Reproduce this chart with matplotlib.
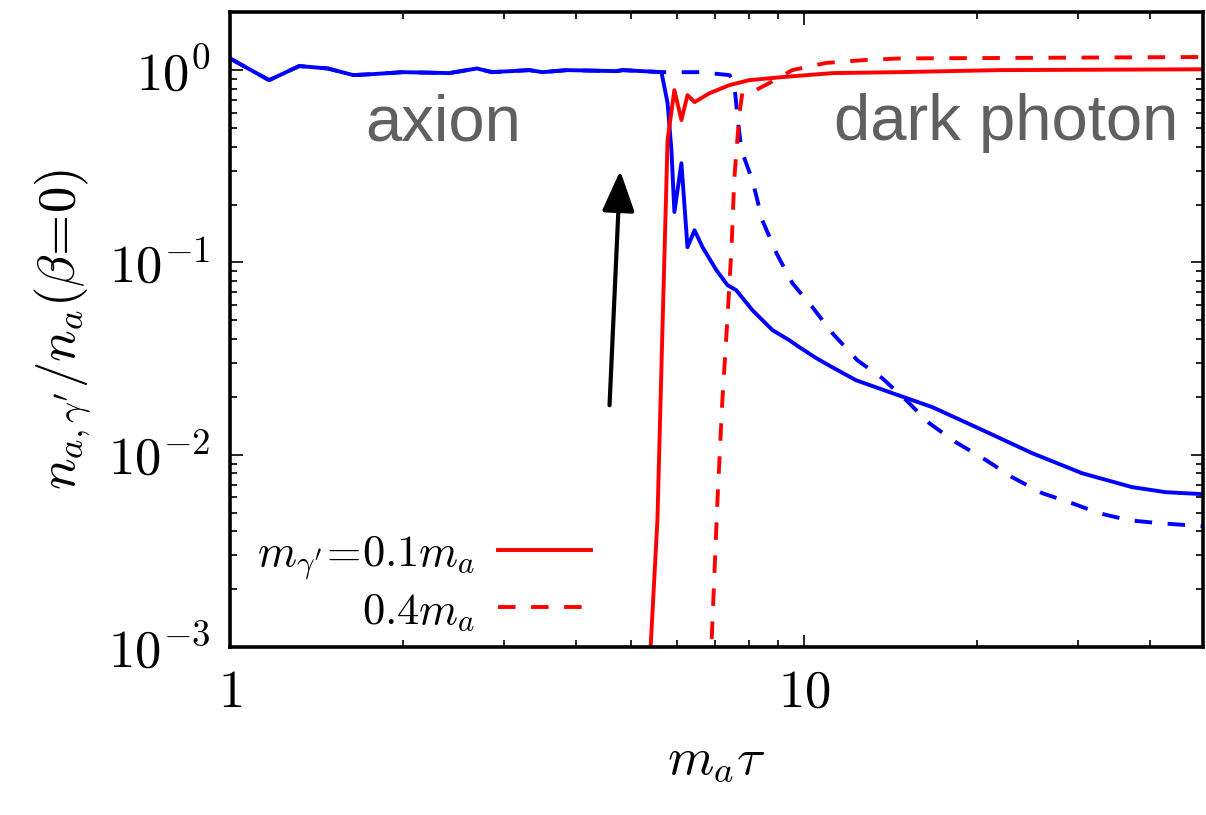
import matplotlib
matplotlib.use("Agg")
import matplotlib.pyplot as plt
from matplotlib.ticker import FixedLocator, FixedFormatter, LogLocator, NullFormatter

plt.rcParams["mathtext.fontset"] = "cm"
plt.rcParams["font.family"] = "serif"

# axion component, m_gamma' = 0.1 m_a
blue_x_01 = [1.0, 1.17, 1.32, 1.48, 1.64, 1.77, 2.0, 2.41, 2.69, 2.86, 3.32, 3.50,
             3.86, 4.71, 4.83, 5.64, 5.78, 5.87, 5.94, 6.11, 6.26, 6.44, 6.65, 7.03,
             7.35, 7.61, 8.12, 8.80, 9.42, 9.80, 10.49, 11.19, 12.31, 14.05, 16.70,
             20.15, 24.92, 30.45, 37.2, 42.6, 49.5]
blue_y_01 = [1.15, 0.887, 1.05, 1.02, 0.942, 0.953, 0.976, 0.965, 1.02, 0.976, 1.0, 0.976,
             1.0, 0.988, 1.0, 0.976, 0.674, 0.384, 0.183, 0.328, 0.120, 0.147, 0.120, 0.0912,
             0.0762, 0.0718, 0.0565, 0.0445, 0.0394, 0.0363, 0.0318, 0.0285, 0.0244, 0.0212, 0.0177,
             0.0137, 0.0102, 0.00802, 0.00679, 0.00639, 0.00624]

# axion component, m_gamma' = 0.4 m_a
blue_x_04 = [1.0, 1.17, 1.32, 1.48, 1.64, 1.77, 2.0, 2.41, 2.69, 2.86, 3.32, 3.50,
             3.86, 4.71, 4.83, 5.64, 6.57, 7.41, 7.55, 7.65, 7.77, 8.12, 8.45, 8.94,
             9.53, 10.33, 11.19, 12.37, 13.67, 15.05, 16.50, 18.38, 20.73, 23.0, 25.94,
             29.25, 32.6, 36.7, 41.4, 49.5]
blue_y_04 = [1.15, 0.887, 1.05, 1.02, 0.942, 0.953, 0.976, 0.965, 1.02, 0.976, 1.0, 0.976,
             1.0, 0.988, 1.0, 0.976, 0.976, 0.942, 0.856, 0.570, 0.384, 0.268, 0.166, 0.112,
             0.0781, 0.0586, 0.0429, 0.0310, 0.0250, 0.0192, 0.0146, 0.0116, 0.00937, 0.00765, 0.00632,
             0.00560, 0.00497, 0.00457, 0.00441, 0.00425]

# dark photon component, m_gamma' = 0.1 m_a
red_x_01 = [5.38, 5.40, 5.55, 5.66, 5.78, 5.94, 6.11, 6.26, 6.44, 6.84, 7.41, 8.02,
            9.16, 11.19, 14.63, 21.8, 49.5]
red_y_01 = [0.0005, 0.001, 0.0046, 0.043, 0.433, 0.787, 0.55, 0.741, 0.682, 0.759, 0.836, 0.887,
            0.920, 0.965, 0.976, 1.0, 1.01]

# dark photon component, m_gamma' = 0.4 m_a
red_x_04 = [6.87, 6.89, 7.06, 7.20, 7.35, 7.47, 7.55, 7.71, 7.80, 8.10, 8.69, 9.53,
            10.92, 12.82, 14.63, 49.5]
red_y_04 = [0.0005, 0.001, 0.0058, 0.0192, 0.0519, 0.120, 0.268, 0.598, 0.759, 0.768, 0.856, 1.0,
            1.09, 1.13, 1.15, 1.17]

x_ticks = [1, 10]
x_tick_labels = [r"$1$", r"$10$"]
y_ticks = [1e-3, 1e-2, 1e-1, 1]
y_tick_labels = [r"$10^{-3}$", r"$10^{-2}$", r"$10^{-1}$", r"$10^{0}$"]

fig = plt.figure(figsize=(12.06, 8.15), dpi=100)
ax = fig.add_axes([0.1907, 0.206, 0.807, 0.779])

lw = 2.8
dash = (0, (4.5, 4))
ax.plot(blue_x_04, blue_y_04, color="#0000ff", lw=lw, ls=dash)
ax.plot(blue_x_01, blue_y_01, color="#0000ff", lw=lw)
ax.plot(red_x_04, red_y_04, color="#ff0000", lw=lw, ls=dash, label=r"$0.4m_a$")
ax.plot(red_x_01, red_y_01, color="#ff0000", lw=lw, label=r"$m_{\gamma^\prime}\!=\!0.1m_a$")

ax.set_xscale("log")
ax.set_yscale("log")
ax.set_xlim(1, 49.5)
ax.set_ylim(1e-3, 2.0)

ax.xaxis.set_major_locator(FixedLocator(x_ticks))
ax.xaxis.set_major_formatter(FixedFormatter(x_tick_labels))
ax.xaxis.set_minor_locator(LogLocator(base=10, subs=range(2, 10)))
ax.xaxis.set_minor_formatter(NullFormatter())
ax.yaxis.set_major_locator(FixedLocator(y_ticks))
ax.yaxis.set_major_formatter(FixedFormatter(y_tick_labels))
ax.yaxis.set_minor_locator(LogLocator(base=10, subs=range(2, 10)))
ax.yaxis.set_minor_formatter(NullFormatter())

ax.tick_params(which="both", direction="in", top=True, right=True, width=1.2)
ax.tick_params(which="major", length=9, labelsize=38, pad=14)
ax.tick_params(which="minor", length=5)
for sp in ax.spines.values():
    sp.set_linewidth(2.6)

ax.set_xlabel(r"$m_a\tau$", fontsize=38, labelpad=12)
ax.set_ylabel(r"$n_{a,\gamma^\prime}/n_a(\beta\!=\!0)$", fontsize=38, labelpad=10)

ax.text(1.717, 0.433, "axion", fontsize=47, color="#606060", family="Liberation Sans")
ax.text(11.28, 0.433, "dark photon", fontsize=47, color="#606060", family="Liberation Sans")

ax.annotate("", xy=(4.78, 0.30), xytext=(4.58, 0.0181),
            arrowprops=dict(arrowstyle="-|>,head_width=0.5,head_length=1.25",
                            mutation_scale=20, lw=3, color="black",
                            shrinkA=0, shrinkB=0))

handles, labels = ax.get_legend_handles_labels()
ax.legend(handles[::-1], labels[::-1], loc="lower left", bbox_to_anchor=(-0.013, -0.04),
          frameon=False, fontsize=32, markerfirst=False, handlelength=2.1,
          handletextpad=0.5, labelspacing=0.15)

fig.savefig("out.png", dpi=100)
plt.close(fig)
